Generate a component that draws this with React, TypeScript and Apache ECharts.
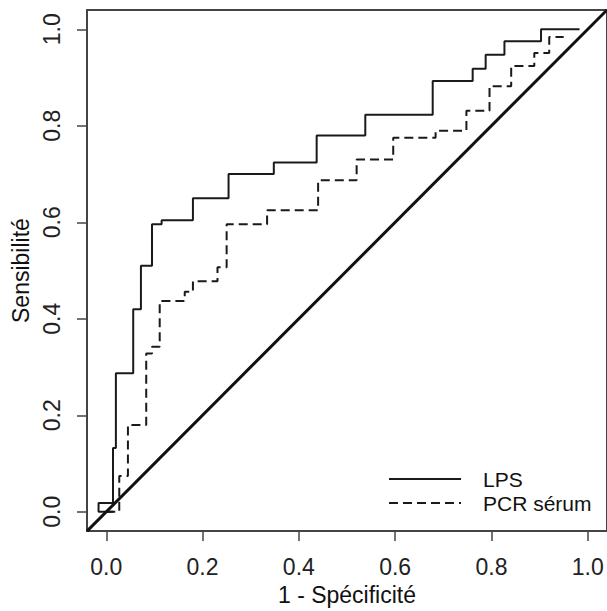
import React, { useEffect, useRef } from "react";
import * as echarts from "echarts";

// ROC curve vertices (1 - specificity, sensitivity)
const lpsFpr = [0.014, -0.016, 0.014, 0.02, 0.056, 0.072, 0.095, 0.115, 0.18, 0.254, 0.348, 0.437, 0.538, 0.678, 0.761, 0.788, 0.827, 0.903, 0.983];
const lpsTpr = [0.0, 0.018, 0.132, 0.287, 0.42, 0.51, 0.596, 0.604, 0.65, 0.7, 0.724, 0.78, 0.823, 0.893, 0.918, 0.947, 0.975, 1.0, 1.0];

const pcrFpr = [0.0, 0.027, 0.045, 0.083, 0.095, 0.111, 0.163, 0.18, 0.231, 0.25, 0.334, 0.44, 0.52, 0.596, 0.684, 0.748, 0.796, 0.841, 0.889, 0.92, 0.95];
const pcrTpr = [0.0, 0.074, 0.18, 0.328, 0.342, 0.437, 0.456, 0.478, 0.507, 0.596, 0.625, 0.687, 0.73, 0.775, 0.79, 0.831, 0.882, 0.924, 0.951, 0.984, 0.984];

const diagX = [-0.04, 1.04];
const diagY = [-0.04, 1.04];

const tickValues = [0, 0.2, 0.4, 0.6, 0.8, 1.0];
const seriesNames = ["LPS", "PCR sérum"];
const xTitle = "1 - Spécificité";
const yTitle = "Sensibilité";

const FONT = '"Liberation Sans", Arial, sans-serif';

export default function App() {
  const ref = useRef<HTMLDivElement>(null);
  useEffect(() => {
    if (!ref.current) return;
    const chart = echarts.init(ref.current, undefined, { renderer: "svg" });
    const zip = (a: number[], b: number[]) => a.map((v, i) => [v, b[i]]);
    const axisCommon = (name: string, isY: boolean) => ({
      type: "value" as const,
      min: -0.04,
      max: 1.04,
      name,
      nameLocation: "middle" as const,
      nameGap: isY ? 50 : 51,
      nameTextStyle: { fontSize: 23, color: "#111", fontFamily: FONT },
      axisLine: { show: true, onZero: false, lineStyle: { color: "#444", width: 2 } },
      axisTick: {
        show: true,
        customValues: tickValues,
        length: 10,
        lineStyle: { color: "#444", width: 1.5 },
      },
      axisLabel: {
        customValues: tickValues,
        margin: 24,
        rotate: isY ? 90 : 0,
        fontSize: 23,
        color: "#222",
        fontFamily: FONT,
        formatter: (v: number) => v.toFixed(1),
      },
      splitLine: { show: false },
    });
    chart.setOption({
      animation: false,
      backgroundColor: "#fff",
      textStyle: { fontFamily: FONT },
      grid: {
        left: 87,
        top: 10,
        width: 523,
        height: 525,
        show: true,
        borderColor: "#444",
        borderWidth: 2,
        backgroundColor: "transparent",
      },
      legend: {
        data: seriesNames,
        orient: "vertical",
        left: 388,
        top: 467,
        padding: 0,
        itemWidth: 72,
        itemHeight: 12,
        itemGap: 0,
        itemStyle: { color: "transparent", borderWidth: 0, opacity: 0 },
        textStyle: {
          fontSize: 21,
          lineHeight: 24,
          color: "#111",
          fontFamily: FONT,
          padding: [0, 0, 0, 17],
        },
      },
      xAxis: axisCommon(xTitle, false),
      yAxis: axisCommon(yTitle, true),
      series: [
        {
          name: seriesNames[0],
          type: "line",
          step: "end",
          data: zip(lpsFpr, lpsTpr),
          symbol: "none",
          lineStyle: { color: "#1a1a1a", width: 2 },
          itemStyle: { color: "#1a1a1a" },
        },
        {
          name: seriesNames[1],
          type: "line",
          step: "end",
          data: zip(pcrFpr, pcrTpr),
          symbol: "none",
          lineStyle: { color: "#1a1a1a", width: 2, type: [9, 5] },
          itemStyle: { color: "#1a1a1a" },
        },
        {
          name: "diagonale",
          type: "line",
          data: zip(diagX, diagY),
          symbol: "none",
          lineStyle: { color: "#111", width: 3 },
          silent: true,
        },
      ],
    });
    return () => chart.dispose();
  }, []);
  return (
    <div
      ref={ref}
      style={{ position: "absolute", left: 0, top: 0, width: 607, height: 611 }}
    />
  );
}
